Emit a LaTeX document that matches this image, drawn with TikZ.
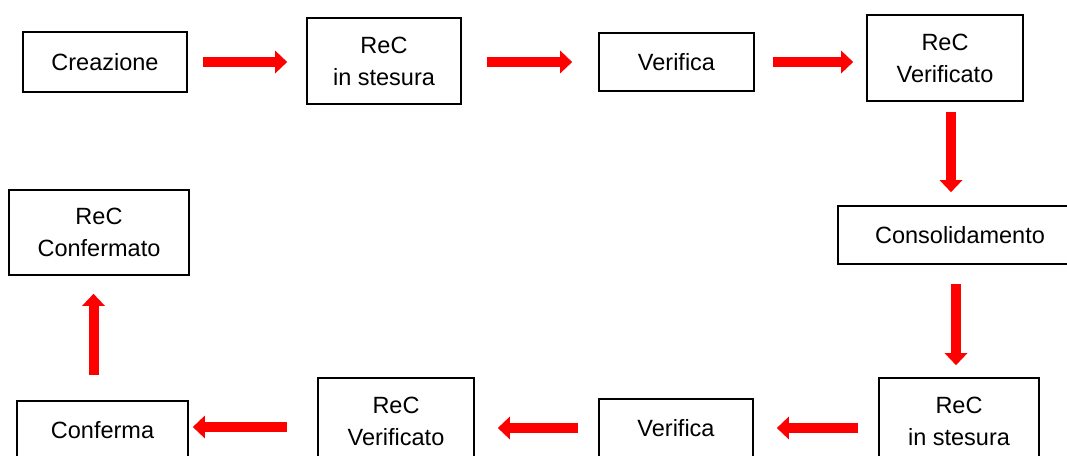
\documentclass[tikz,border=0pt]{standalone}
\usepackage{fontspec}
\setmainfont{Liberation Sans}
\usetikzlibrary{arrows.meta}
\tikzset{
  statebox/.style={draw, line width=1.6pt, align=center, inner sep=0pt, font=\fontsize{23.5}{32}\selectfont},
  flowarrow/.style={-{Triangle[length=12pt,width=22pt]}, draw=red, line width=10pt}
}

\begin{document}
\begin{tikzpicture}[x=1pt,y=-1pt]
\clip (0,0) rectangle (1067,455);
% first pass, left to right
\node[statebox, minimum width=164pt, minimum height=60pt] (creaz) at (105,62) {Creazione};
\node[statebox, minimum width=154pt, minimum height=86pt] (stes1) at (384,61) {ReC\\in stesura};
\node[statebox, minimum width=155pt, minimum height=58pt] (verif1) at (676.5,62) {Verifica};
\node[statebox, minimum width=156pt, minimum height=86pt] (ver1) at (945,58) {ReC\\Verificato};
\node[statebox, minimum width=244pt, minimum height=58pt] (cons) at (960,235) {Consolidamento};
% second pass, right to left
\node[statebox, minimum width=160pt, minimum height=86pt] (stes2) at (959,421) {ReC\\in stesura};
\node[statebox, minimum width=154pt, minimum height=58pt] (verif2) at (676,428) {Verifica};
\node[statebox, minimum width=156pt, minimum height=86pt] (ver2) at (396,421) {ReC\\Verificato};
\node[statebox, minimum width=171pt, minimum height=58pt] (conf) at (102.5,430) {Conferma};
\node[statebox, minimum width=180pt, minimum height=85pt] (confm) at (99,232.5) {ReC\\Confermato};

\draw[flowarrow, shorten <=15pt, shorten >=19pt] (creaz.east) -- (stes1.west |- creaz.east);
\draw[flowarrow, shorten <=25pt, shorten >=26pt] (stes1.east |- verif1.west) -- (verif1.west);
\draw[flowarrow, shorten <=18pt, shorten >=13pt] (verif1.east) -- (ver1.west |- verif1.east);
\draw[flowarrow, shorten <=10pt, shorten >=13pt] ([xshift=6pt]ver1.south) -- ([xshift=-9pt]cons.north);
\draw[flowarrow, shorten <=19pt, shorten >=12pt] ([xshift=-4pt]cons.south) -- ([xshift=-3pt]stes2.north);
\draw[flowarrow, shorten <=20pt, shorten >=23pt] (stes2.west |- verif2.east) -- (verif2.east);
\draw[flowarrow, shorten <=20pt, shorten >=23pt] (verif2.west) -- (ver2.east |- verif2.west);
\draw[flowarrow, shorten <=30pt, shorten >=4pt] (ver2.west |- 0,427) -- (conf.east |- 0,427);
\draw[flowarrow, shorten <=25pt, shorten >=18pt] ([xshift=-9pt]conf.north) -- ([xshift=-5.5pt]confm.south);
\end{tikzpicture}
\end{document}
